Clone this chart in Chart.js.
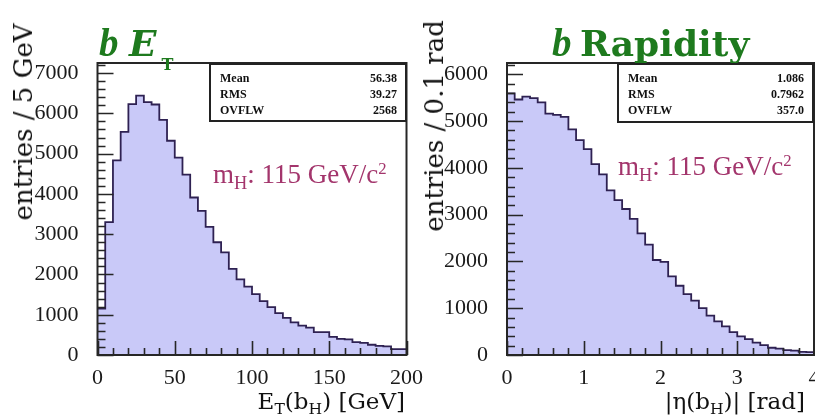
<!DOCTYPE html>
<html>
<head>
<meta charset="utf-8">
<script src="https://cdn.jsdelivr.net/npm/chart.js@4.4.1/dist/chart.umd.min.js"></script>
<style>
    html, body { margin: 0; padding: 0; background: #fff; }
    #wrap { position: relative; width: 815px; height: 416px; overflow: hidden; }
    #wrap canvas { position: absolute; left: 0; top: 0; }
    .txt { position: absolute; white-space: nowrap; line-height: 1; }
    .title { color: #1e7a1e; font: bold 36px 'DejaVu Serif', serif; }
    .bq { font: italic bold 39px 'Liberation Serif', serif; }
    .axt { color: #111; font: 23px 'DejaVu Serif', serif; }
    .ytitle { color: #111; font: 26px 'DejaVu Serif', serif; transform: translate(-50%, -50%) rotate(-90deg); }
    .note { color: #a3356c; font: 27px 'Liberation Serif', serif; }
    .sub { font-size: 0.68em; position: relative; top: 0.32em; }
    .sup { font-size: 0.62em; position: relative; top: -0.55em; }
    .stats { position: absolute; box-sizing: border-box; background: #fff; border: 2px solid #222;
             font: bold 12px 'Liberation Serif', serif; color: #111; }
    .stats span { position: absolute; line-height: 1; }
</style>
</head>
<body>
<div id="wrap">
    <canvas id="etChart" width="815" height="416"></canvas>
    <canvas id="etaChart" width="815" height="416"></canvas>

    <div class="txt title bq" style="left:99px; top:20px;">b</div>
    <div class="txt title" style="left:129px; top:22px;"><i>E</i><span style="font-size:16px; position:relative; top:14px; margin-left:5px;">T</span></div>
    <div class="txt title bq" style="left:552px; top:20px;">b</div>
    <div class="txt title" style="left:580px; top:22px;">Rapidity</div>

    <div class="txt ytitle" style="left:23px; top:122px;">entries / 5 GeV</div>
    <div class="txt ytitle" style="left:434px; top:126px;">entries / 0.1 rad</div>

    <div class="txt axt" style="right:410px; top:388px;">E<span class="sub">T</span>(b<span class="sub">H</span>) [GeV]</div>
    <div class="txt axt" style="right:10px; top:388px;">|η(b<span class="sub">H</span>)| [rad]</div>

    <div class="txt note" style="left:213px; top:159px;">m<span class="sub">H</span>: 115 GeV/c<span class="sup">2</span></div>
    <div class="txt note" style="left:618px; top:151px;">m<span class="sub">H</span>: 115 GeV/c<span class="sup">2</span></div>

    <div class="stats" id="etStats" style="left:209px; top:63px; width:198px; height:59px;"></div>
    <div class="stats" id="etaStats" style="left:617px; top:63px; width:197px; height:60px;"></div>
</div>

<script>
    // b E_T histogram, 5 GeV bins from 0 to 200
    const etBinWidth = 5;
    const etValues = [1150, 3300, 4830, 5540, 6230, 6440, 6280, 6220, 5840, 5320,
                      4900, 4480, 3910, 3580, 3180, 2800, 2550, 2140, 1880, 1700,
                      1510, 1340, 1190, 1040, 920, 810, 730, 680, 570, 570,
                      450, 400, 390, 320, 300, 255, 225, 215, 145, 145];
    const etXTicks = [0, 50, 100, 150, 200];
    const etYTicks = [0, 1000, 2000, 3000, 4000, 5000, 6000, 7000];

    // b rapidity histogram, 0.1 rad bins from 0 to 4
    const etaBinWidth = 0.1;
    const etaValues = [5590, 5460, 5520, 5490, 5400, 5160, 5130, 5090, 4820, 4590,
                       4400, 4080, 3860, 3520, 3310, 3120, 2910, 2600, 2360, 2030,
                       1990, 1680, 1480, 1300, 1160, 1000, 840, 720, 610, 490,
                       400, 340, 265, 210, 155, 135, 105, 95, 65, 60];
    const etaXTicks = [0, 1, 2, 3, 4];
    const etaYTicks = [0, 1000, 2000, 3000, 4000, 5000, 6000];

    const statLabels = ['Mean', 'RMS', 'OVFLW'];
    const etStatValues = ['56.38', '39.27', '2568'];
    const etaStatValues = ['1.086', '0.7962', '357.0'];

    const FILL = 'rgb(201, 201, 248)';
    const LINE = '#2e2152';
    const FRAME = '#262626';

    function fillStats(id, values) {
        const box = document.getElementById(id);
        statLabels.forEach((lab, i) => {
            const top = 7 + i * 16;
            box.insertAdjacentHTML('beforeend',
                `<span style="left:9px; top:${top}px">${lab}</span>` +
                `<span style="right:8px; top:${top}px">${values[i]}</span>`);
        });
    }
    fillStats('etStats', etStatValues);
    fillStats('etaStats', etaStatValues);

    // frame round the plot area plus inward ticks, like the ROOT style
    const frameTicks = {
        id: 'frameTicks',
        afterDatasetsDraw(chart, args, opts) {
            const { ctx, chartArea: a, scales: { x, y } } = chart;
            ctx.save();
            ctx.strokeStyle = FRAME;
            ctx.lineWidth = 1.6;
            ctx.beginPath();
            for (let v = 0; v <= y.max + 1e-9; v += opts.yMinor) {
                const py = Math.round(y.getPixelForValue(v)) + 0.5;
                const len = opts.yMajor.includes(Math.round(v)) ? 16 : 8;
                ctx.moveTo(a.left, py);
                ctx.lineTo(a.left + len, py);
            }
            for (let k = 0; k * opts.xMinor <= x.max + 1e-9; k++) {
                const v = k * opts.xMinor;
                const px = Math.round(x.getPixelForValue(v)) + 0.5;
                const major = opts.xMajor.some(t => Math.abs(t - v) < 1e-6);
                ctx.moveTo(px, a.bottom);
                ctx.lineTo(px, a.bottom - (major ? 14 : 7));
            }
            ctx.stroke();
            ctx.lineWidth = 2;
            ctx.strokeRect(a.left, a.top, a.right - a.left, a.bottom - a.top);
            ctx.restore();
        }
    };

    function histPoints(values, width) {
        const pts = values.map((v, i) => ({ x: i * width, y: v }));
        pts.push({ x: values.length * width, y: values[values.length - 1] });
        return pts;
    }

    function makeHist(canvasId, cfg) {
        const tickFont = { family: "'Liberation Serif', serif", size: 22 };
        return new Chart(document.getElementById(canvasId), {
            type: 'line',
            data: {
                datasets: [{
                    data: histPoints(cfg.values, cfg.binWidth),
                    stepped: true,
                    fill: 'origin',
                    backgroundColor: FILL,
                    borderColor: LINE,
                    borderWidth: 1.8,
                    pointRadius: 0
                }]
            },
            options: {
                responsive: false,
                animation: false,
                devicePixelRatio: 1,
                layout: { padding: cfg.padding },
                plugins: {
                    legend: { display: false },
                    tooltip: { enabled: false },
                    frameTicks: {
                        xMajor: cfg.xTicks, xMinor: cfg.xMinor,
                        yMajor: cfg.yTicks, yMinor: 200
                    }
                },
                scales: {
                    x: {
                        type: 'linear',
                        min: 0,
                        max: cfg.xMax,
                        grid: { display: false },
                        border: { display: false },
                        ticks: {
                            font: tickFont, color: '#1a1a1a', padding: 2, maxRotation: 0, autoSkip: false,
                            callback: v => String(v)
                        },
                        afterBuildTicks: s => { s.ticks = cfg.xTicks.map(v => ({ value: v })); },
                        afterFit: s => { s.height = 416 - 355; s.paddingLeft = 0; s.paddingRight = 0; }
                    },
                    y: {
                        min: 0,
                        max: cfg.yMax,
                        grid: { display: false },
                        border: { display: false },
                        ticks: { font: tickFont, color: '#1a1a1a', padding: 11, callback: v => String(v) },
                        afterBuildTicks: s => { s.ticks = cfg.yTicks.map(v => ({ value: v })); },
                        afterFit: s => { s.width = cfg.yWidth; s.paddingTop = 0; s.paddingBottom = 0; }
                    }
                }
            },
            plugins: [frameTicks]
        });
    }

    makeHist('etChart', {
        values: etValues, binWidth: etBinWidth, xMax: 200, yMax: 7250,
        xTicks: etXTicks, xMinor: 10, yTicks: etYTicks,
        yWidth: 97.5, padding: { left: 0, top: 63, right: 408.5, bottom: 0 }
    });
    makeHist('etaChart', {
        values: etaValues, binWidth: etaBinWidth, xMax: 4, yMax: 6240,
        xTicks: etaXTicks, xMinor: 0.2, yTicks: etaYTicks,
        yWidth: 97, padding: { left: 410, top: 63, right: 1, bottom: 0 }
    });
</script>
</body>
</html>
